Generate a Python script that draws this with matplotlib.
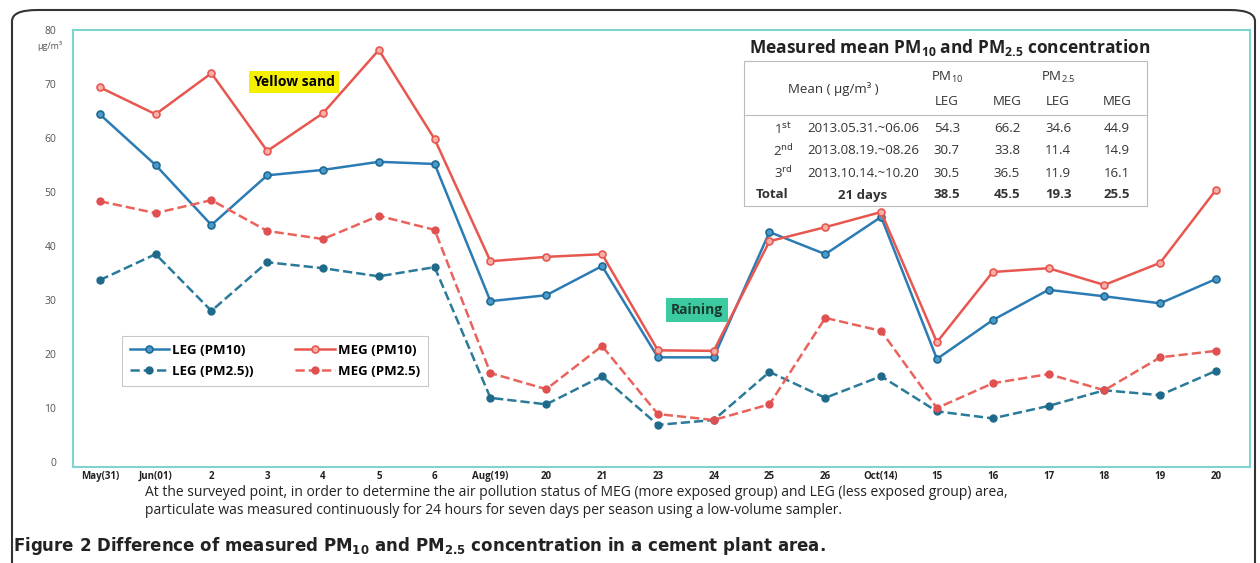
import numpy as np
import matplotlib.pyplot as plt
from matplotlib.patches import FancyBboxPatch, Rectangle

plt.rcParams['font.family'] = ['Open Sans', 'DejaVu Sans']

days = ["May(31)", "Jun(01)", "2", "3", "4", "5", "6", "Aug(19)", "20", "21", "23",
        "24", "25", "26", "Oct(14)", "15", "16", "17", "18", "19", "20"]

leg_pm10 = [64.4, 55.0, 43.9, 53.1, 54.1, 55.6, 55.2, 29.8, 30.9, 36.3, 19.4,
            19.4, 42.6, 38.5, 45.4, 19.1, 26.3, 31.9, 30.7, 29.4, 33.9]
meg_pm10 = [69.4, 64.4, 72.0, 57.6, 64.6, 76.3, 59.8, 37.2, 38.0, 38.5, 20.7,
            20.6, 40.9, 43.5, 46.3, 22.2, 35.2, 35.9, 32.8, 36.9, 50.4]
leg_pm25 = [33.7, 38.5, 28.0, 37.0, 35.9, 34.4, 36.1, 11.9, 10.7, 15.9, 6.9,
            7.8, 16.7, 11.9, 15.9, 9.4, 8.1, 10.4, 13.3, 12.4, 16.9]
meg_pm25 = [48.3, 46.1, 48.5, 42.8, 41.3, 45.6, 43.0, 16.5, 13.5, 21.5, 8.9,
            7.8, 10.7, 26.7, 24.3, 10.0, 14.6, 16.3, 13.3, 19.4, 20.6]

# summary table
tab_ord = ["1$^{\\mathrm{st}}$", "2$^{\\mathrm{nd}}$", "3$^{\\mathrm{rd}}$", "Total"]
tab_period = ["2013.05.31.~06.06", "2013.08.19.~08.26", "2013.10.14.~10.20", "21 days"]
tab_leg10 = ["54.3", "30.7", "30.5", "38.5"]
tab_meg10 = ["66.2", "33.8", "36.5", "45.5"]
tab_leg25 = ["34.6", "11.4", "11.9", "19.3"]
tab_meg25 = ["44.9", "14.9", "16.1", "25.5"]

W, H = 1260, 563
fig = plt.figure(figsize=(W / 100, H / 100), dpi=100)


def fx(px):
    return px / W


def fy(py):
    return 1 - py / H


ax = fig.add_axes([fx(73), fy(467), fx(1250) - fx(73), fy(30) - fy(467)])
x = np.arange(len(days))

blue = "#2b7bb5"
red = "#e8574f"
l1, = ax.plot(x, leg_pm10, "-o", color=blue, lw=1.8, ms=5, mfc="#4a9ad0", mec="#1f6a90",
              mew=1.2, label="LEG (PM10)")
l2, = ax.plot(x, meg_pm10, "-o", color=red, lw=1.8, ms=5, mfc="#f6b0aa", mec=red,
              mew=1.2, label="MEG (PM10)")
l3, = ax.plot(x, leg_pm25, "--o", color="#2a7a9a", lw=1.8, ms=5, mfc="#1f6a8a", mec="#1f6a8a",
              label="LEG (PM2.5))")
l4, = ax.plot(x, meg_pm25, "--o", color="#e9635c", lw=1.8, ms=5, mfc="#e05050", mec="#e05050",
              label="MEG (PM2.5)")

ax.set_xlim(-0.48, 20.61)
ax.set_ylim(-0.9, 80)
ax.set_yticks(np.arange(0, 90, 10))
ax.set_xticks(x)
ax.set_xticklabels(days, fontsize=7, fontweight="bold", color="#222222")
ax.tick_params(axis="both", length=0)
ax.tick_params(axis="x", pad=3)
ax.tick_params(axis="y", pad=12, labelsize=7.5, labelcolor="#555555")
for s in ax.spines.values():
    s.set_color("#7fd3d0")
    s.set_linewidth(1.5)

fig.text(fx(50), fy(46), "μg/m³", fontsize=6.5, color="#555555", ha="center", va="center")

leg = ax.legend([l1, l3, l2, l4], [h.get_label() for h in [l1, l3, l2, l4]],
                ncol=2, loc="upper left", bbox_to_anchor=(fx(115 - 73) / (fx(1250) - fx(73)), 0.315),
                prop={"weight": "bold", "size": 9.5}, frameon=True, fancybox=False,
                handlelength=3.0, columnspacing=3.2, borderpad=0.6, labelspacing=0.6,
                handletextpad=0.2)
leg.get_frame().set_edgecolor("#bbbbbb")
leg.get_frame().set_linewidth(0.8)

ax.text(3.48, 70.4, "Yellow sand", fontsize=10, fontweight="bold", ha="center", va="center",
        bbox=dict(boxstyle="square,pad=0.3", fc="#f4f000", ec="none"))
ax.text(10.7, 28.1, "Raining", fontsize=10, fontweight="bold", ha="center", va="center",
        color="#1a3a30", bbox=dict(boxstyle="square,pad=0.35", fc="#3ccaa0", ec="none"))

# table
fig.patches.append(Rectangle((fx(744), fy(206)), fx(1147) - fx(744), fy(61) - fy(206),
                             transform=fig.transFigure, fc="white", ec="#bbbbbb", lw=0.8, zorder=5))
fig.add_artist(plt.Line2D([fx(744), fx(1147)], [fy(115), fy(115)], color="#bbbbbb", lw=0.8,
                          transform=fig.transFigure, zorder=6))
fig.text(fx(950), fy(48), "Measured mean PM$_{\\mathregular{10}}$ and PM$_{\\mathregular{2.5}}$ concentration",
         fontsize=12.5, fontweight="bold", ha="center", va="center", color="#222222", zorder=7)
tk = dict(fontsize=9.5, color="#333333", ha="center", va="center", zorder=7)
fig.text(fx(833), fy(89), "Mean ( μg/m³ )", **tk)
fig.text(fx(947), fy(77), "PM$_{\\mathregular{10}}$", **tk)
fig.text(fx(1058), fy(77), "PM$_{\\mathregular{2.5}}$", **tk)
col_x = [947, 1007, 1058, 1117]
for cx, h in zip(col_x, ["LEG", "MEG", "LEG", "MEG"]):
    fig.text(fx(cx), fy(102), h, **tk)
row_y = [129, 151, 173, 195]
for i, ry in enumerate(row_y):
    w = "bold" if i == 3 else "normal"
    fig.text(fx(772 if i == 3 else 783), fy(ry), tab_ord[i], fontweight=w, **tk)
    fig.text(fx(863), fy(ry), tab_period[i], fontweight=w, **tk)
    for cx, col in zip(col_x, [tab_leg10, tab_meg10, tab_leg25, tab_meg25]):
        fig.text(fx(cx), fy(ry), col[i], fontweight=w, **tk)

fig.text(fx(145), fy(492), "At the surveyed point, in order to determine the air pollution status of MEG (more exposed group) and LEG (less exposed group) area,",
         fontsize=10, color="#222222", va="center")
fig.text(fx(145), fy(510), "particulate was measured continuously for 24 hours for seven days per season using a low-volume sampler.",
         fontsize=10, color="#222222", va="center")

fig.text(fx(13), fy(546), "Figure 2 Difference of measured PM$_{\\mathregular{10}}$ and PM$_{\\mathregular{2.5}}$ concentration in a cement plant area.",
         fontsize=12, fontweight="bold", va="center", color="#222222",
         family=["DejaVu Sans"])

fig.patches.append(FancyBboxPatch((fx(12), fy(575)), fx(1255) - fx(12), fy(10) - fy(575),
                                  boxstyle="round,pad=0,rounding_size=0.02",
                                  transform=fig.transFigure, fc="none", ec="#333333", lw=1.5))

fig.savefig("out.png", dpi=100)
